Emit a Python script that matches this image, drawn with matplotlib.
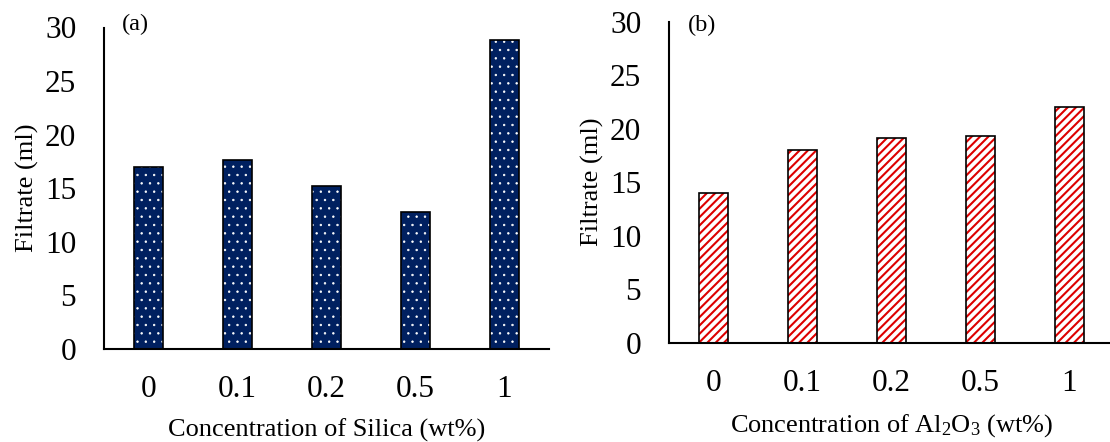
import numpy as np
import matplotlib
matplotlib.use("Agg")
import matplotlib.pyplot as plt

# ==========================
# Data
# ==========================
conc_labels = ["0", "0.1", "0.2", "0.5", "1"]
silica_filtrate = [17.0, 17.6, 15.2, 12.8, 28.8]
alumina_filtrate = [14.0, 18.0, 19.1, 19.3, 22.0]

# ==========================
# Style
# ==========================
plt.rcParams["font.family"] = ["Liberation Serif", "DejaVu Serif"]
plt.rcParams["mathtext.fontset"] = "custom"
plt.rcParams["mathtext.rm"] = "Liberation Serif"
plt.rcParams["mathtext.it"] = "Liberation Serif:italic"
plt.rcParams["hatch.linewidth"] = 1.5

navy = "#002060"
red = "#DD0000"

fig = plt.figure(figsize=(11.10, 4.42), dpi=100)
ax_a = fig.add_axes([104 / 1110, 1 - 349 / 442, 445 / 1110, 321.5 / 442])
ax_b = fig.add_axes([669 / 1110, 1 - 342.5 / 442, 445 / 1110, 320.5 / 442])

x = np.arange(len(conc_labels))
bar_w = 0.33


def style_axis(ax, xlabel):
    ax.set_xlim(-0.5, 4.5)
    ax.set_ylim(0, 30)
    ax.set_yticks(range(0, 31, 5))
    ax.set_xticks(x)
    ax.set_xticklabels(conc_labels)
    ax.spines["top"].set_visible(False)
    ax.spines["right"].set_visible(False)
    ax.spines["left"].set_linewidth(1.5)
    ax.spines["bottom"].set_linewidth(1.5)
    ax.tick_params(axis="y", length=0, pad=20, labelsize=22.5)
    ax.tick_params(axis="x", length=0, pad=19, labelsize=22.5)
    ax.set_ylabel("Filtrate (ml)", fontsize=19, labelpad=4)
    ax.set_xlabel(xlabel, fontsize=19, labelpad=10)


# (a) Silica - navy bars with white dots
dots = ax_a.bar(x, silica_filtrate, bar_w, color=navy, edgecolor="white",
                hatch="..", linewidth=0)
for p in dots:
    if hasattr(p, "set_hatch_linewidth"):
        p.set_hatch_linewidth(0.5)
ax_a.bar(x, silica_filtrate, bar_w, fill=False, edgecolor="black",
         linewidth=1.2)
style_axis(ax_a, "Concentration of Silica (wt%)")
ax_a.text(0.04, 1.008, "(a)", transform=ax_a.transAxes, fontsize=17.5,
          va="center", ha="left")

# (b) Al2O3 - red diagonal stripes
ax_b.bar(x, alumina_filtrate, bar_w, color="white", edgecolor=red,
         hatch="////", linewidth=0)
ax_b.bar(x, alumina_filtrate, bar_w, fill=False, edgecolor="black",
         linewidth=1.2)
style_axis(ax_b, r"Concentration of Al$_2$O$_3$ (wt%)")
ax_b.text(0.043, 0.99, "(b)", transform=ax_b.transAxes, fontsize=17.5,
          va="center", ha="left")

fig.savefig("out.png", dpi=100)
